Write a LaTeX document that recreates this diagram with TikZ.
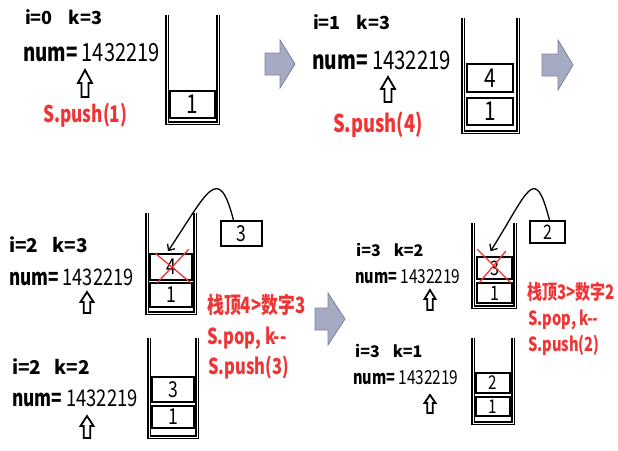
\documentclass[tikz,border=0pt]{standalone}
\usepackage{fontspec}
\setmainfont{Noto Sans CJK SC}[FakeStretch=0.8]
\newfontfamily\labelfont{Noto Sans CJK SC}
\newfontfamily\eqfont{Noto Sans CJK SC}[FakeStretch=0.75]
\newfontfamily\redfont{Noto Sans CJK SC}[FakeStretch=0.75]
\usetikzlibrary{arrows.meta}
\definecolor{popred}{RGB}{238,52,52}
\definecolor{arrowgray}{RGB}{166,171,196}
\definecolor{arrowedge}{RGB}{125,130,155}

% x of tail, y of middle, length, head width, shaft width, head length
\newcommand{\grayright}[6]{%
	\draw[grayarrow] (#1,{#2+#5/2}) -- ({#1+#3-#6},{#2+#5/2}) -- ({#1+#3-#6},{#2+#4/2}) -- ({#1+#3},#2)
		-- ({#1+#3-#6},{#2-#4/2}) -- ({#1+#3-#6},{#2-#5/2}) -- (#1,{#2-#5/2}) -- cycle;}
% x, y of tip, length, head width, head length
\newcommand{\hollowup}[5]{%
	\draw[uparrow] (#1,#2) -- ({#1+#4/2},{#2-#5}) -- ({#1+#4/4},{#2-#5}) -- ({#1+#4/4},{#2-#3})
		-- ({#1-#4/4},{#2-#3}) -- ({#1-#4/4},{#2-#5}) -- ({#1-#4/2},{#2-#5}) -- cycle;}
\newcommand{\numline}{{\eqfont\bfseries num=}\,1432219}

\begin{document}
\begin{tikzpicture}[x=1pt,y=1pt,
	var/.style={anchor=west,inner sep=0pt,font=\labelfont\fontsize{#1}{#1}\selectfont\bfseries},
	num/.style={anchor=west,inner sep=0pt,font=\fontsize{#1}{#1}\selectfont},
	op/.style={anchor=west,inner sep=0pt,text=popred,font=\redfont\fontsize{#1}{#1}\selectfont\bfseries},
	cell/.style n args={3}{draw,line width=1.6pt,inner sep=0pt,minimum width=#1,minimum height=#2,font=\fontsize{#3}{#3}\selectfont},
	wall/.style={double,double distance=0.8pt,line width=1.3pt},
	uparrow/.style={draw=black,fill=white,line width=1.8pt,line join=miter},
	grayarrow/.style={draw=arrowedge,fill=arrowgray,line width=0.8pt},
	cross/.style={draw=popred,line width=1.3pt},
	jump/.style={-{Straight Barb[length=5pt,width=9pt]},line width=1.3pt}]

	\useasboundingbox (0,0) rectangle (618,-450);

	% i=0
	\node[var=18] (ia) at (25,-17) {i=0\hspace{16pt}k=3};
	\node[num=25] (na) at (23,-53) {\numline};
	\hollowup{85}{-70}{27}{14}{13}
	\node[op=23] (pa) at (43,-115) {S.push(1)};
	\draw[wall] (167,-15) |- (218,-123) -- (218,-15);
	\node[cell={45pt}{27pt}{26}] (a1) at (192.5,-104.5) {1};
	\grayright{265}{-64}{30}{48}{22}{15}

	% i=1
	\node[var=18] (ib) at (313,-22) {i=1\hspace{16pt}k=3};
	\node[num=25.5] (nb) at (312,-60) {\numline};
	\hollowup{388}{-77}{25}{14}{12}
	\node[op=24.5] (pb) at (333,-125) {S.push(4)};
	\draw[wall] (463,-18) |- (518,-132) -- (518,-18);
	\node[cell={46pt}{28pt}{26}] (b4) at (490,-78) {4};
	\node[cell={46pt}{27pt}{26}] (b1) at (490,-111.5) {1};
	\grayright{542}{-65}{31}{50}{22}{15}

	% i=2, top greater than digit
	\node[var=19] (ic) at (9,-245) {i=2\hspace{14pt}k=3};
	\node[num=22.8] (nc) at (9,-277) {\numline};
	\hollowup{87}{-292}{21}{13}{10}
	\draw[wall] (147,-213) |- (195,-313) -- (195,-213);
	\node[cell={42pt}{26pt}{22}] (c4) at (171,-267) {4};
	\node[cell={42pt}{24pt}{22}] (c1) at (171,-295) {1};
	\node[cell={41pt}{25pt}{22}] (c3) at (241.5,-233.5) {3};
	\draw[cross] ([shift={(6,0)}]c4.north west) -- ([shift={(-2,-2)}]c4.south east);
	\draw[cross] ([shift={(-4,4)}]c4.north east) -- ([shift={(8,-2)}]c4.south west);
	\draw[jump] ([xshift=-8pt]c3.north) .. controls +(-15,58) and +(40,60) .. ([shift={(-3,2)}]c4.north);
	\node[op=22.5] (tc) at (207,-305) {栈顶4>数字3};

	% i=2, after pop
	\node[op=22] (pc1) at (207,-338) {S.pop, k-{}-};
	\node[op=22] (pc2) at (208,-368) {S.push(3)};
	\node[var=19] (id) at (12,-367) {i=2\hspace{13pt}k=2};
	\node[num=23] (nd) at (12,-398) {\numline};
	\hollowup{87}{-416}{22}{13}{10}
	\draw[wall] (149,-338) |- (197,-437) -- (197,-338);
	\node[cell={42pt}{25pt}{22}] (d3) at (173,-389.5) {3};
	\node[cell={42pt}{22pt}{22}] (d1) at (173,-417) {1};
	\grayright{315}{-319}{30}{52}{22}{17}

	% i=3, top greater than digit
	\node[var=16] (ie) at (356,-250) {i=3\hspace{13pt}k=2};
	\node[num=19.3] (ne) at (355,-277) {\numline};
	\hollowup{430}{-290}{20}{11}{9}
	\draw[wall] (473,-223) |- (515,-307) -- (515,-223);
	\node[cell={35pt}{22pt}{20}] (e3) at (494.5,-268) {3};
	\node[cell={35pt}{20pt}{20}] (e1) at (494.5,-293) {1};
	\node[cell={35pt}{22pt}{20}] (e2) at (547.5,-232) {2};
	\draw[cross] ([shift={(1,7)}]e3.north west) -- ([shift={(-2,-3)}]e3.south east);
	\draw[cross] ([shift={(-7,5)}]e3.north east) -- ([shift={(3,-3)}]e3.south west);
	\draw[jump] ([xshift=2pt]e2.north) .. controls +(-15,58) and +(38,60) .. ([shift={(-4,5)}]e3.north);
	\node[op=20] (te) at (527,-292) {栈顶3>数字2};

	% i=3, after pop
	\node[op=19.5] (pf1) at (528,-320) {S.pop, k-{}-};
	\node[op=19.5] (pf2) at (528,-345) {S.push(2)};
	\node[var=16] (if) at (355,-351) {i=3\hspace{13pt}k=1};
	\node[num=19.3] (nf) at (353,-378) {\numline};
	\hollowup{430}{-395}{18}{11}{8}
	\draw[wall] (473,-338) |- (513,-423) -- (513,-338);
	\node[cell={34pt}{20pt}{19}] (f2) at (493,-383) {2};
	\node[cell={34pt}{19pt}{19}] (f1) at (493,-406.5) {1};

\end{tikzpicture}
\end{document}
